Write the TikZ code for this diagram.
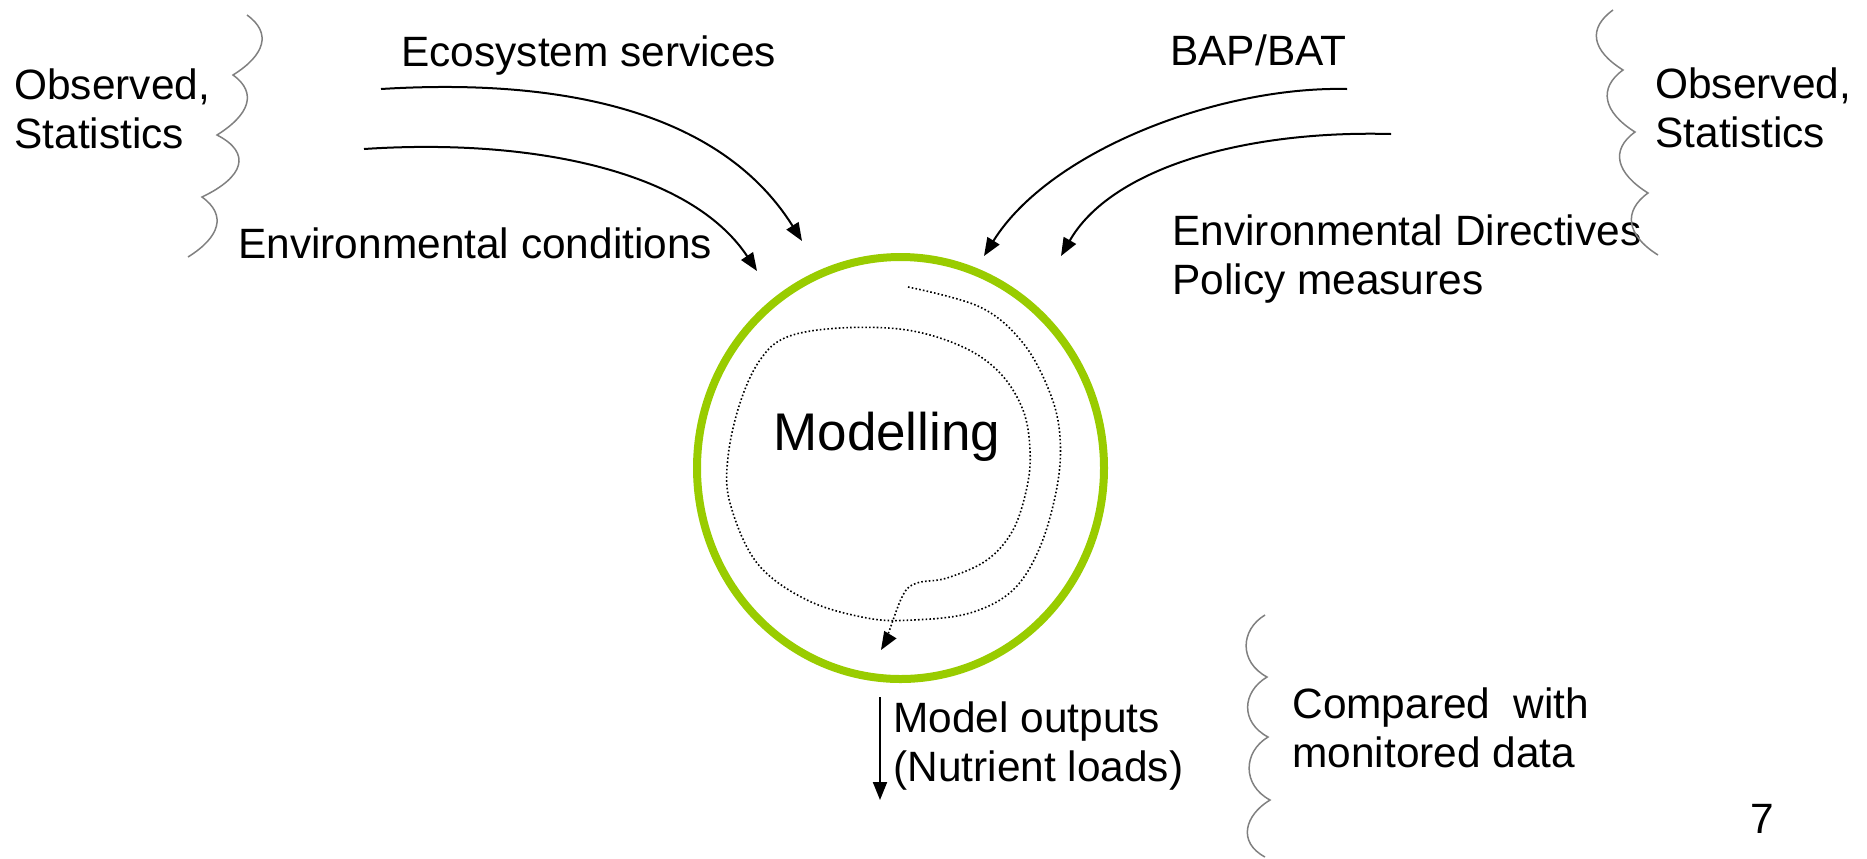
\documentclass[tikz,border=0pt]{standalone}
\usepackage{fontspec}
\setmainfont{Liberation Sans}
\usepackage{tikz}
\usetikzlibrary{shapes,arrows.meta}

\definecolor{loopgreen}{HTML}{99CC00}
\definecolor{bracegray}{HTML}{808080}

\tikzset{
  >={Triangle[length=9pt,width=7pt]},
  lbl/.style={anchor=base west, inner sep=0pt, align=left, font=\fontsize{21.2}{24.5}\selectfont},
  wave/.style={draw=bracegray, line width=0.75pt},
  feed/.style={->, line width=1pt},
}

\begin{document}
\begin{tikzpicture}[scale=1]

%\normal

\newcommand\Y{-0.5pt}
\newcommand\X{0.5pt}

\useasboundingbox (0, 0) rectangle (1867*\X, 858*\Y);

% two-line labels sit on the baseline of their last line
\node[lbl] (obsleft) at (14*\X, 148*\Y) {Observed,\\Statistics};
\node[lbl] (ecosys) at (401*\X, 66*\Y) {Ecosystem services};
\node[lbl] (envcond) at (238*\X, 258*\Y) {Environmental conditions};
\node[lbl] (bapbat) at (1170*\X, 65*\Y) {BAP/BAT};
\node[lbl] (obsright) at (1655*\X, 147*\Y) {Observed,\\Statistics};
\node[lbl] (envdir) at (1172*\X, 294*\Y) {Environmental Directives\\Policy measures};
\node[lbl] (outputs) at (893*\X, 781*\Y) {Model outputs\\(Nutrient loads)};
\node[lbl] (compared) at (1292*\X, 767*\Y) {Compared\ \ with\\monitored data};
\node[lbl] (pagenum) at (1750*\X, 833*\Y) {7};

\node[ellipse, draw=loopgreen, line width=4pt, minimum width=203.5pt, minimum height=211pt, inner sep=0pt] (loop) at (900.5*\X, 468*\Y) {};
\node[anchor=base west, inner sep=0pt, font=\fontsize{26.5}{30}\selectfont] (modelling) at (773*\X, 450*\Y) {Modelling};

\coordinate (ecoS) at (381*\X, 89*\Y);
\coordinate (ecoE) at (802*\X, 241*\Y);
\draw[feed] (ecoS) .. controls (560*\X, 78*\Y) and (720*\X, 110*\Y) .. (ecoE);

\coordinate (condS) at (364*\X, 149*\Y);
\coordinate (condE) at (757*\X, 271*\Y);
\draw[feed] (condS) .. controls (530*\X, 138*\Y) and (690*\X, 170*\Y) .. (condE);

\coordinate (bapS) at (1347*\X, 89*\Y);
\coordinate (bapE) at (984*\X, 256*\Y);
\draw[feed] (bapS) .. controls (1220*\X, 86*\Y) and (1050*\X, 150*\Y) .. (bapE);

\coordinate (polS) at (1391*\X, 134*\Y);
\coordinate (polE) at (1061*\X, 256*\Y);
\draw[feed] (polS) .. controls (1240*\X, 130*\Y) and (1110*\X, 170*\Y) .. (polE);

\coordinate (outS) at (880*\X, 697*\Y);
\coordinate (outE) at (880*\X, 800*\Y);
\draw[feed] (outS) -- (outE);

% dotted loop inside
\draw[->, line width=0.8pt, dash pattern=on 0.8pt off 1.1pt] plot[smooth, tension=0.6] coordinates {
  (908*\X, 287*\Y) (980*\X, 307*\Y) (1023*\X, 343*\Y) (1050*\X, 393*\Y) (1060*\X, 437*\Y)
  (1057*\X, 487*\Y) (1040*\X, 547*\Y) (1013*\X, 590*\Y) (970*\X, 613*\Y) (913*\X, 620*\Y)
  (867*\X, 618*\Y) (807*\X, 600*\Y) (757*\X, 563*\Y) (730*\X, 503*\Y) (728*\X, 457*\Y)
  (740*\X, 403*\Y) (760*\X, 360*\Y) (787*\X, 337*\Y) (840*\X, 328*\Y) (907*\X, 330*\Y)
  (963*\X, 347*\Y) (1000*\X, 373*\Y) (1023*\X, 410*\Y) (1030*\X, 450*\Y) (1027*\X, 487*\Y)
  (1013*\X, 530*\Y) (987*\X, 560*\Y) (947*\X, 578*\Y) (917*\X, 583*\Y) (903*\X, 595*\Y)
  (887*\X, 637*\Y) (881*\X, 650*\Y)};

% wavy braces
\draw[wave] (247*\X, 15*\Y) .. controls (272*\X, 33*\Y) and (265*\X, 55*\Y) .. (233*\X, 75*\Y)
  .. controls (258*\X, 93*\Y) and (249*\X, 115*\Y) .. (217*\X, 135*\Y)
  .. controls (252*\X, 153*\Y) and (244*\X, 177*\Y) .. (202*\X, 197*\Y)
  .. controls (227*\X, 215*\Y) and (220*\X, 237*\Y) .. (188*\X, 257*\Y);

\draw[wave] (1613*\X, 10*\Y) .. controls (1588*\X, 28*\Y) and (1591*\X, 50*\Y) .. (1623*\X, 70*\Y)
  .. controls (1598*\X, 88*\Y) and (1603*\X, 112*\Y) .. (1635*\X, 132*\Y)
  .. controls (1610*\X, 150*\Y) and (1616*\X, 173*\Y) .. (1648*\X, 193*\Y)
  .. controls (1623*\X, 211*\Y) and (1626*\X, 235*\Y) .. (1658*\X, 255*\Y);

\draw[wave] (1265*\X, 615*\Y) .. controls (1240*\X, 630*\Y) and (1239*\X, 662*\Y) .. (1267*\X, 677*\Y)
  .. controls (1242*\X, 692*\Y) and (1240*\X, 722*\Y) .. (1268*\X, 737*\Y)
  .. controls (1243*\X, 752*\Y) and (1242*\X, 785*\Y) .. (1270*\X, 800*\Y)
  .. controls (1245*\X, 815*\Y) and (1237*\X, 842*\Y) .. (1265*\X, 857*\Y);

\end{tikzpicture}
\end{document}
